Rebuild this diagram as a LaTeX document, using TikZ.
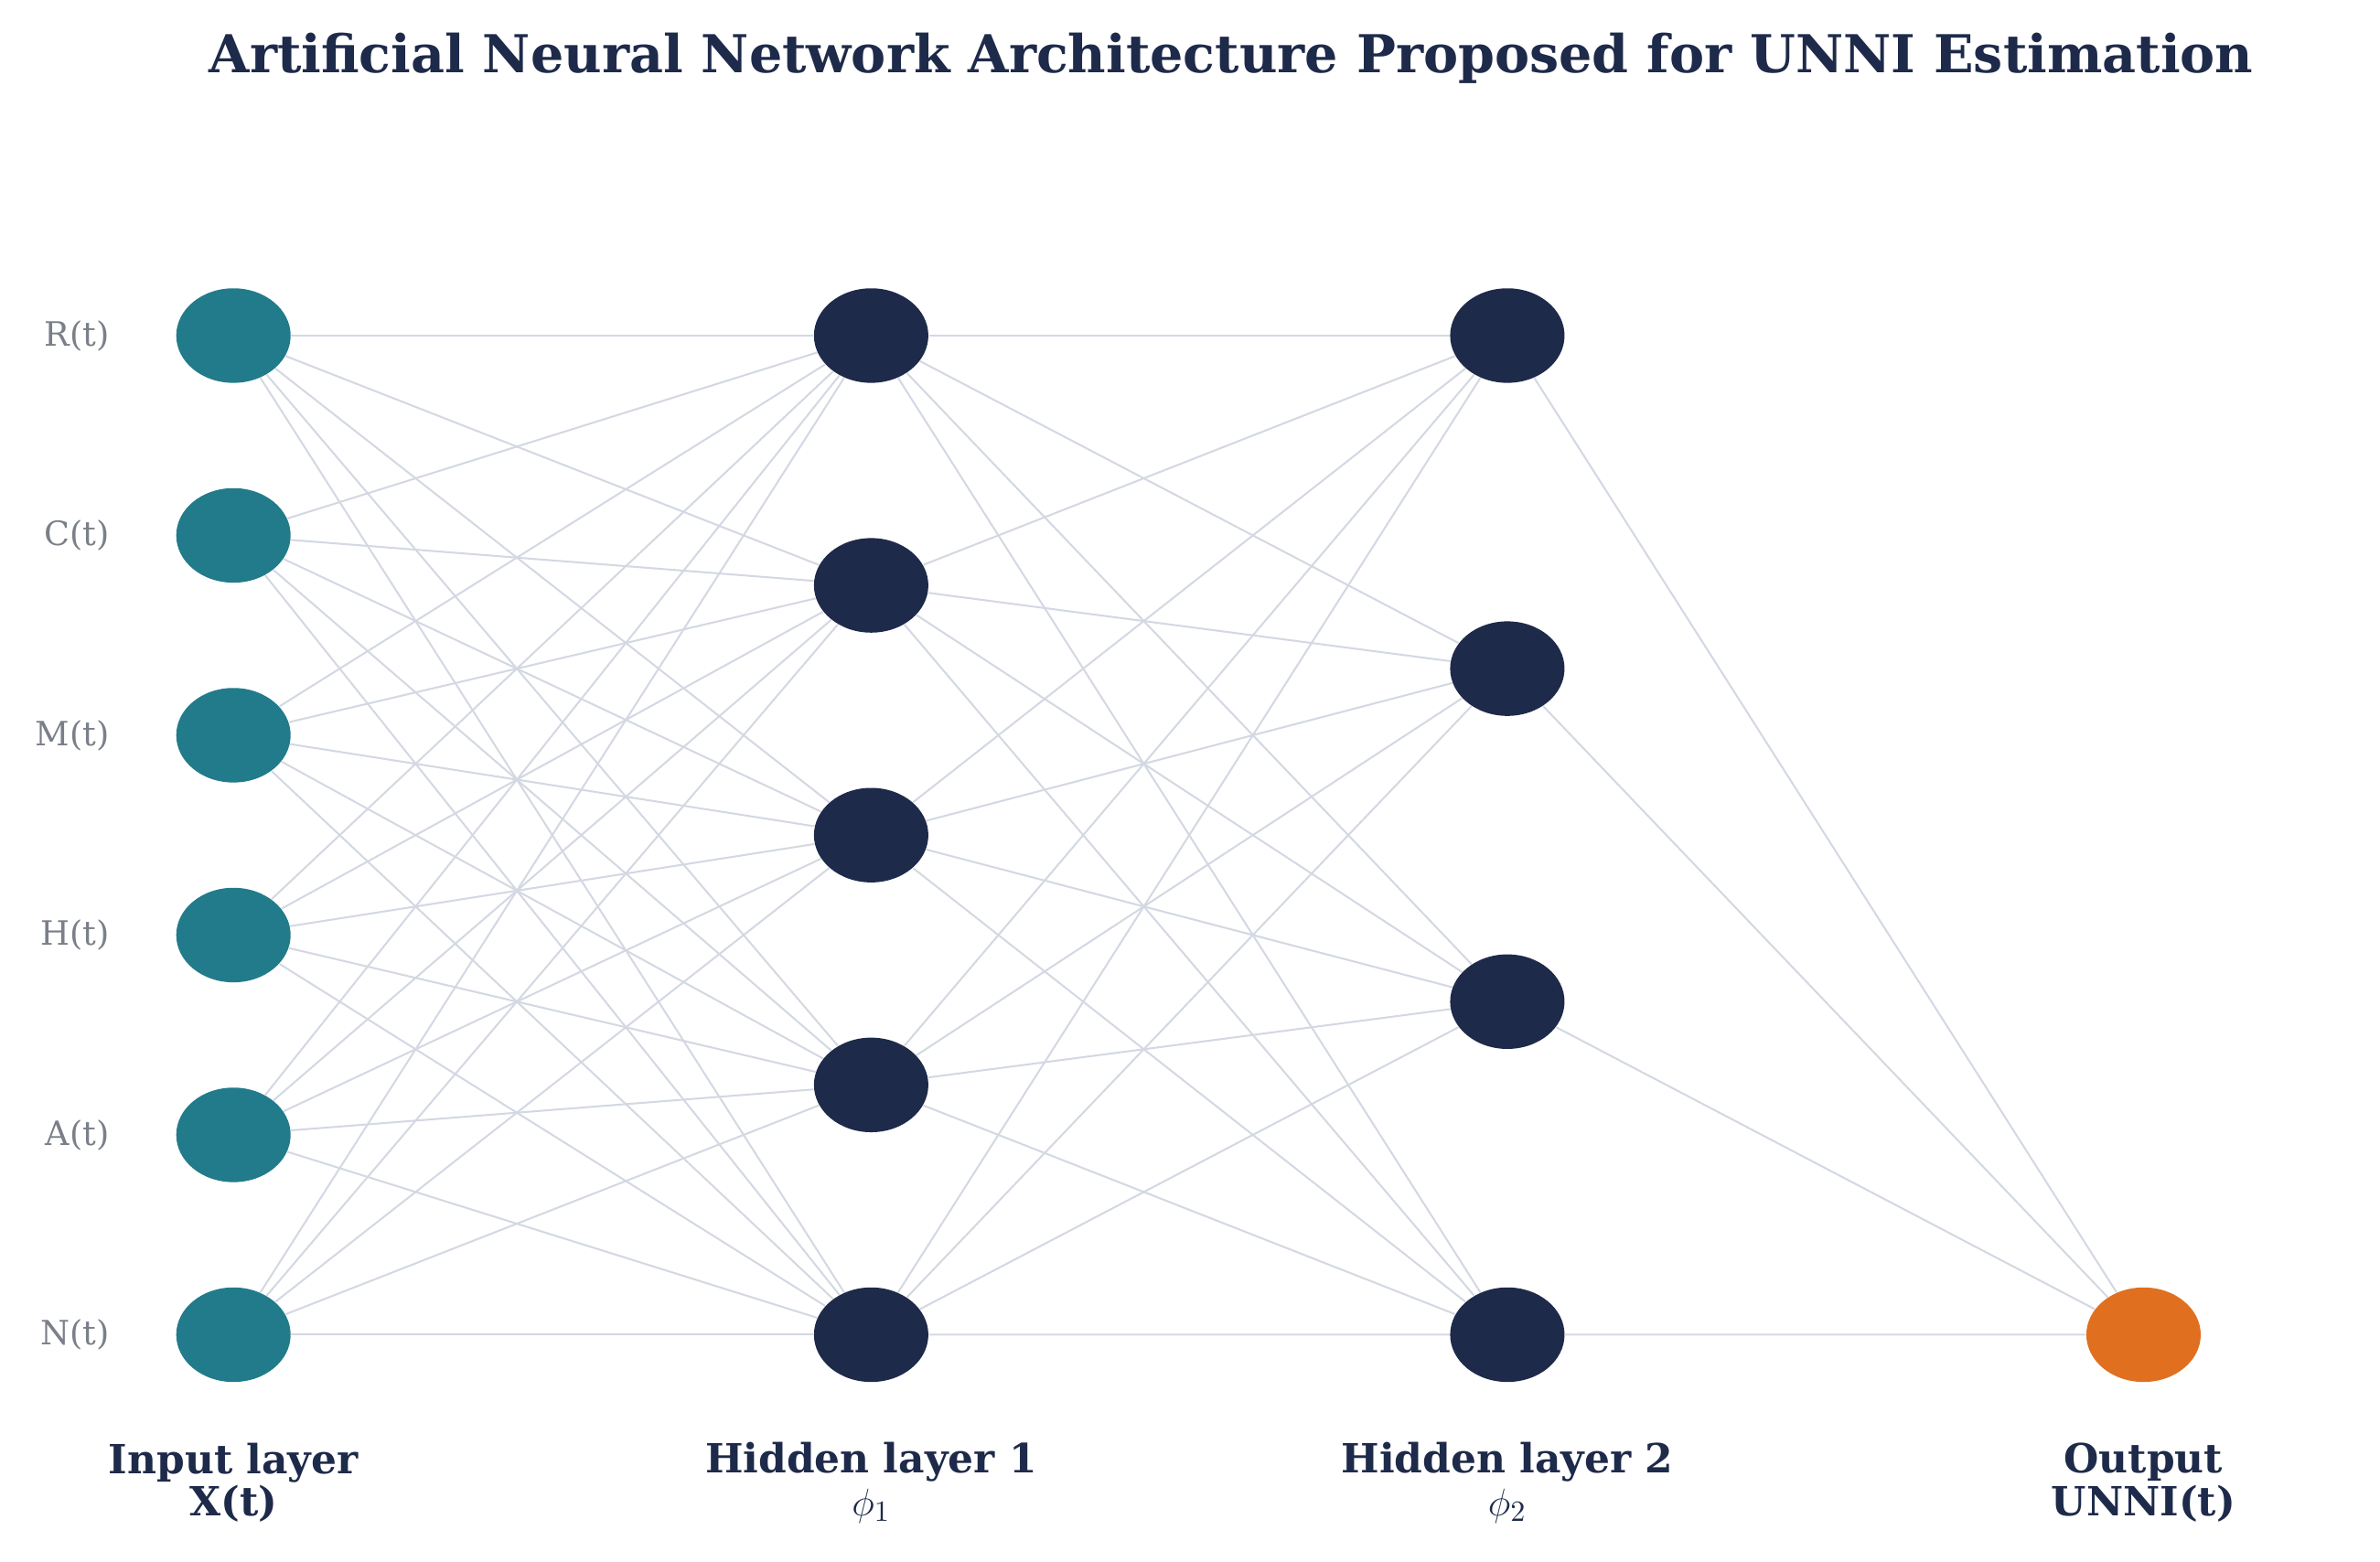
\documentclass[tikz,border=0pt]{standalone}
\usepackage{fontspec}
\setmainfont{DejaVu Serif}
\usetikzlibrary{shapes.geometric,backgrounds}
\definecolor{navy}{HTML}{1E2A4A}
\definecolor{teal}{HTML}{217B8A}
\definecolor{orng}{HTML}{E07020}
\definecolor{edge}{HTML}{D3D8E2}
\definecolor{lbl}{HTML}{7A7F88}
\begin{document}
\begin{tikzpicture}[x=0.02cm, y=-0.02cm,
    neuron/.style={ellipse, minimum width=1.5cm, minimum height=1.24cm, inner sep=0pt},
    link/.style={edge, line width=0.7pt},
    layer/.style={font=\bfseries\fontsize{15}{16}\selectfont, text=navy, align=center}]
\useasboundingbox (0,0) rectangle (1560,1024);
\node[font=\bfseries\fontsize{19.5}{22}\selectfont, text=navy] (title) at (807,38) {Artificial Neural Network Architecture Proposed for UNNI Estimation};
% input layer
\foreach \lab [count=\i] in {R(t),C(t),M(t),H(t),A(t),N(t)}{
    \node[neuron, fill=teal] (in\i) at (153,{220+131*(\i-1)}) {};
    \node[left, text=lbl, font=\fontsize{12.5}{14}\selectfont] (inl\i) at (78,{220+131*(\i-1)}) {\lab};
}
% hidden layers
\foreach \i in {1,...,5}
    \node[neuron, fill=navy] (ha\i) at (571,{220+163.75*(\i-1)}) {};
\foreach \i in {1,...,4}
    \node[neuron, fill=navy] (hb\i) at (988,{220+218.33*(\i-1)}) {};
\node[neuron, fill=orng] (out) at (1405,875) {};
% connections
\begin{scope}[on background layer]
\foreach \i in {1,...,6}
    \foreach \j in {1,...,5}
        \draw[link] (in\i) -- (ha\j);
\foreach \i in {1,...,5}
    \foreach \j in {1,...,4}
        \draw[link] (ha\i) -- (hb\j);
\foreach \j in {1,...,4}
    \draw[link] (hb\j) -- (out);
\end{scope}
% layer captions
\node[layer] (capin) at (153,972) {Input layer\\X(t)};
\node[layer] (capa) at (571,972) {Hidden layer 1\\$\phi_1$};
\node[layer] (capb) at (988,972) {Hidden layer 2\\$\phi_2$};
\node[layer] (capo) at (1405,972) {Output\\UNNI(t)};
\end{tikzpicture}
\end{document}
